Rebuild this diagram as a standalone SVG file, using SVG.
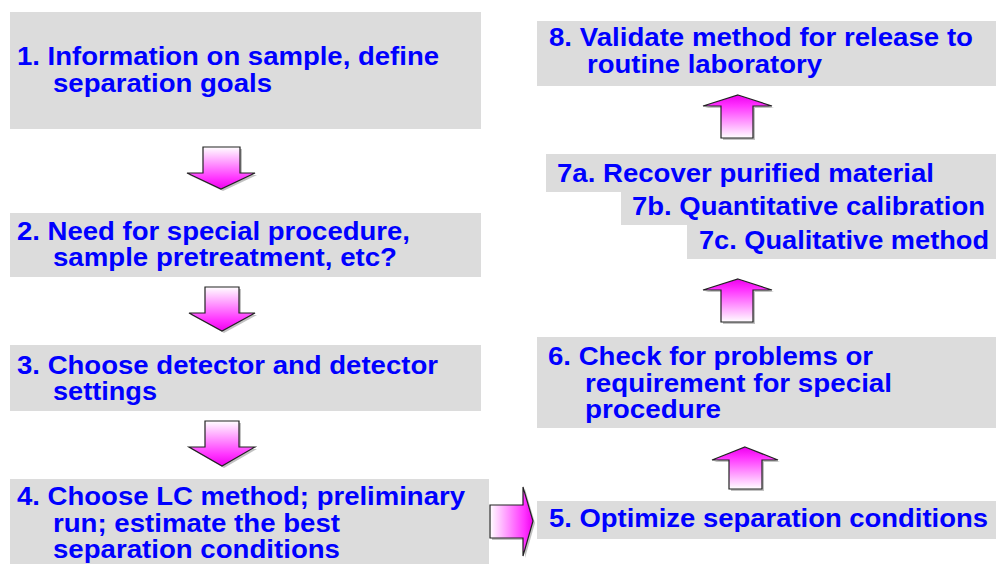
<svg xmlns="http://www.w3.org/2000/svg" xmlns:xlink="http://www.w3.org/1999/xlink" width="996" height="564" viewBox="0 0 996 564">
<style>
.box{fill:#dcdcdc;}
.t{font-family:"Liberation Sans",Arial,sans-serif;font-weight:bold;font-size:25px;fill:#0000ff;}
.arr{stroke:#222;stroke-width:1.2;stroke-linejoin:miter;}
.sh{fill:#9a9a9a;opacity:0.6;}
</style>
<defs>
<linearGradient id="gDown" x1="0" y1="0" x2="0" y2="1">
<stop offset="0" stop-color="#ffffff"/>
<stop offset="0.75" stop-color="#ff33ff"/>
<stop offset="1" stop-color="#ee00ee"/>
</linearGradient>
<linearGradient id="gUp" x1="0" y1="1" x2="0" y2="0">
<stop offset="0" stop-color="#ffffff"/>
<stop offset="0.75" stop-color="#ff33ff"/>
<stop offset="1" stop-color="#ee00ee"/>
</linearGradient>
<linearGradient id="gRight" x1="0" y1="0" x2="1" y2="0">
<stop offset="0" stop-color="#ffffff"/>
<stop offset="0.8" stop-color="#ff33ff"/>
<stop offset="1" stop-color="#ee00ee"/>
</linearGradient>
</defs>
<rect width="996" height="564" fill="#ffffff"/>

<g id="node1">
<rect class="box" x="10" y="12" width="471" height="117"/>
<text class="t" x="17" y="65" textLength="422" lengthAdjust="spacingAndGlyphs">1. Information on sample, define</text>
<text class="t" x="53" y="92" textLength="219" lengthAdjust="spacingAndGlyphs">separation goals</text>
</g>
<g id="node2">
<rect class="box" x="10" y="213" width="471" height="64"/>
<text class="t" x="17" y="240" textLength="393" lengthAdjust="spacingAndGlyphs">2. Need for special procedure,</text>
<text class="t" x="53" y="266" textLength="344" lengthAdjust="spacingAndGlyphs">sample pretreatment, etc?</text>
</g>
<g id="node3">
<rect class="box" x="10" y="345" width="471" height="66"/>
<text class="t" x="17" y="374" textLength="421" lengthAdjust="spacingAndGlyphs">3. Choose detector and detector</text>
<text class="t" x="53" y="400" textLength="104" lengthAdjust="spacingAndGlyphs">settings</text>
</g>
<g id="node4">
<rect class="box" x="10" y="479" width="479" height="85"/>
<text class="t" x="17" y="505" textLength="448" lengthAdjust="spacingAndGlyphs">4. Choose LC method; preliminary</text>
<text class="t" x="53" y="532" textLength="287" lengthAdjust="spacingAndGlyphs">run; estimate the best</text>
<text class="t" x="53" y="558" textLength="287" lengthAdjust="spacingAndGlyphs">separation conditions</text>
</g>
<g id="node5">
<rect class="box" x="537" y="501" width="459" height="38"/>
<text class="t" x="549" y="527" textLength="439" lengthAdjust="spacingAndGlyphs">5. Optimize separation conditions</text>
</g>
<g id="node6">
<rect class="box" x="537" y="337" width="459" height="91"/>
<text class="t" x="548" y="365" textLength="325" lengthAdjust="spacingAndGlyphs">6. Check for problems or</text>
<text class="t" x="585" y="392" textLength="307" lengthAdjust="spacingAndGlyphs">requirement for special</text>
<text class="t" x="585" y="418" textLength="136" lengthAdjust="spacingAndGlyphs">procedure</text>
</g>
<g id="node7">
<rect class="box" x="546" y="154" width="450" height="38"/>
<rect class="box" x="621" y="192" width="375" height="33"/>
<rect class="box" x="687" y="225" width="309" height="34"/>
<text class="t" x="557" y="182" textLength="377" lengthAdjust="spacingAndGlyphs">7a. Recover purified material</text>
<text class="t" x="632" y="215" textLength="353" lengthAdjust="spacingAndGlyphs">7b. Quantitative calibration</text>
<text class="t" x="699" y="249" textLength="290" lengthAdjust="spacingAndGlyphs">7c. Qualitative method</text>
</g>
<g id="node8">
<rect class="box" x="537" y="21" width="459" height="65"/>
<text class="t" x="549" y="46" textLength="424" lengthAdjust="spacingAndGlyphs">8. Validate method for release to</text>
<text class="t" x="587" y="73" textLength="235" lengthAdjust="spacingAndGlyphs">routine laboratory</text>
</g>

<g id="connectors">
<!-- 1 -> 2 -->
<polygon class="sh" points="205,149 242,149 242,175 257,175 223,191 189,175 205,175"/>
<polygon class="arr" fill="url(#gDown)" points="203,147 240,147 240,173 255,173 221,189 187,173 203,173"/>
<!-- 2 -> 3 -->
<polygon class="sh" points="207,289 241,289 241,315 257,315 224,333 191,315 207,315"/>
<polygon class="arr" fill="url(#gDown)" points="205,287 239,287 239,313 255,313 222,331 189,313 205,313"/>
<!-- 3 -> 4 -->
<polygon class="sh" points="207,423 241,423 241,449 257,449 224,468 191,449 207,449"/>
<polygon class="arr" fill="url(#gDown)" points="205,421 239,421 239,447 255,447 222,466 189,447 205,447"/>
<!-- 4 -> 5 -->
<polygon class="sh" points="492,507 525,507 525,489 535,523 525,558 525,540 492,540"/>
<polygon class="arr" fill="url(#gRight)" points="490,505 523,505 523,487 533,521 523,556 523,538 490,538"/>
<!-- 5 -> 6 -->
<polygon class="sh" points="747,449 780,462 764,462 764,491 731,491 731,462 714,462"/>
<polygon class="arr" fill="url(#gUp)" points="745,447 778,460 762,460 762,489 729,489 729,460 712,460"/>
<!-- 6 -> 7 -->
<polygon class="sh" points="740,281 774,292 755,292 755,324 723,324 723,292 705,292"/>
<polygon class="arr" fill="url(#gUp)" points="738,279 772,290 753,290 753,322 721,322 721,290 703,290"/>
<!-- 7 -> 8 -->
<polygon class="sh" points="740,97 774,108 755,108 755,140 723,140 723,108 705,108"/>
<polygon class="arr" fill="url(#gUp)" points="738,95 772,106 753,106 753,138 721,138 721,106 703,106"/>
</g>
</svg>
